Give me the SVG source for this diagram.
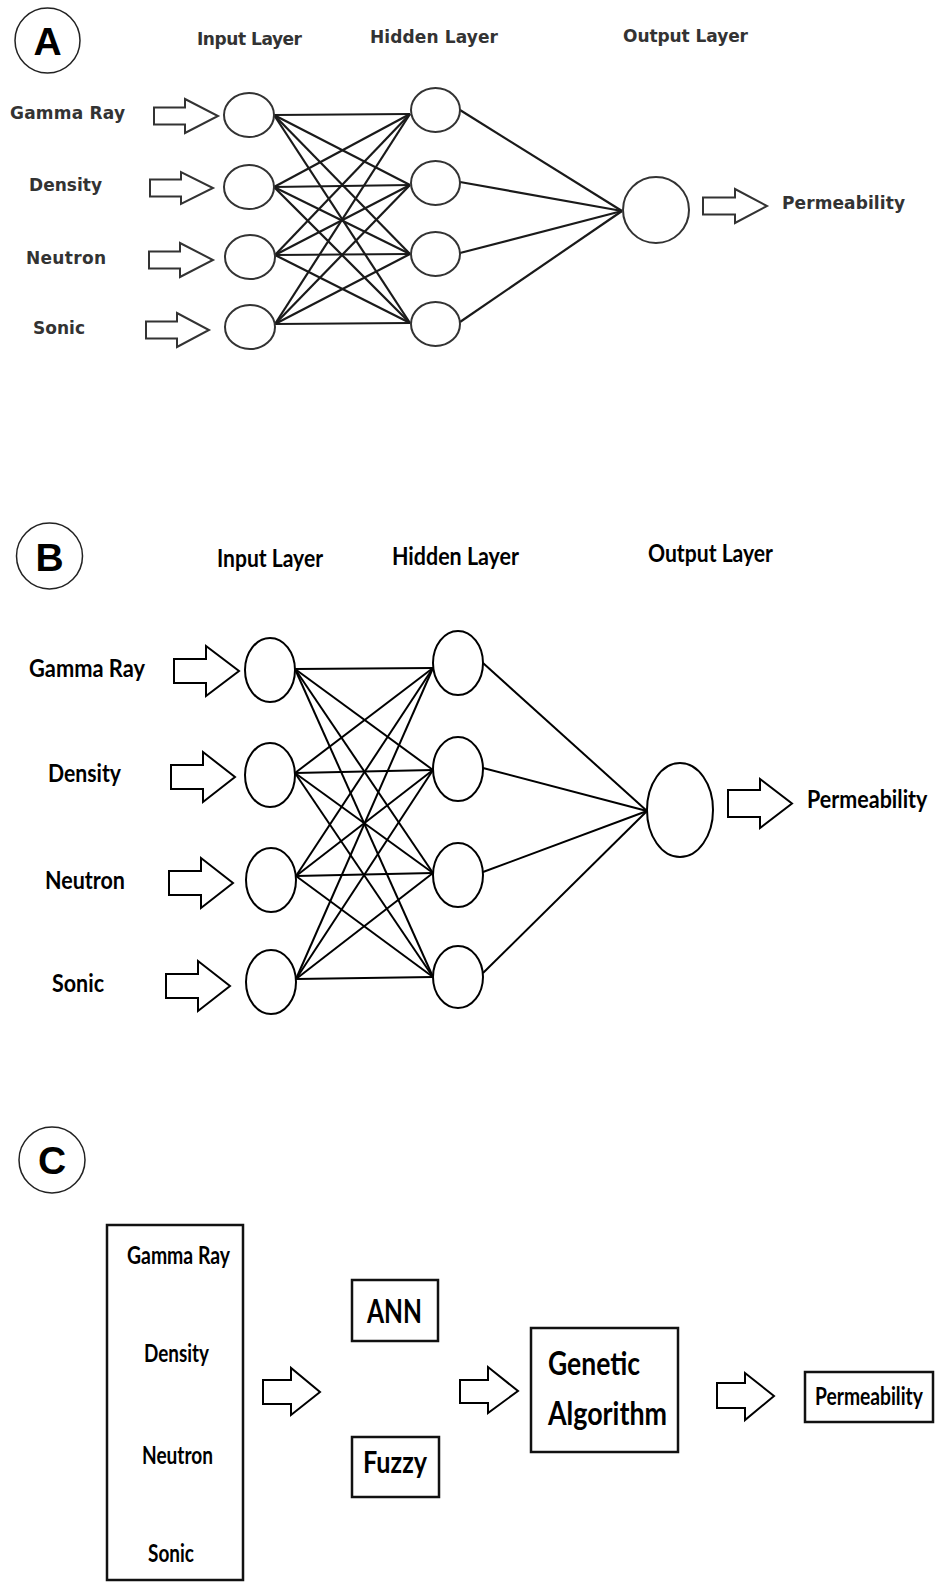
<svg xmlns="http://www.w3.org/2000/svg" width="935" height="1582" viewBox="0 0 935 1582">
<style>
.bg{fill:#fff}
.badge{fill:#fff;stroke:#222;stroke-width:1.5}
.badgeT{font-family:"Liberation Sans",Arial,sans-serif;font-weight:bold;font-size:39px;fill:#000;text-anchor:middle}
.ta{font-family:"DejaVu Sans",Verdana,sans-serif;font-weight:bold;font-size:17px;fill:#333}
.tb{font-family:Lato,"Liberation Sans",sans-serif;font-weight:bold;font-size:25px;fill:#000}
.nodeA{fill:#fff;stroke:#333;stroke-width:2}
.nodeB{fill:#fff;stroke:#000;stroke-width:2}
.arrA{fill:#fff;stroke:#333;stroke-width:2;stroke-linejoin:miter}
.arrB{fill:#fff;stroke:#000;stroke-width:2;stroke-linejoin:miter}
.linkA{stroke:#1a1a1a;stroke-width:2.2;fill:none}
.linkB{stroke:#000;stroke-width:2;fill:none}
.box{fill:#fff;stroke:#111;stroke-width:2.5}
</style>
<rect class="bg" x="0" y="0" width="935" height="1582"/>

<!-- ================= Panel A ================= -->
<g id="badgeA"><circle class="badge" cx="47.5" cy="40.5" r="32.5"/><text class="badgeT" x="47.5" y="55">A</text></g>
<g id="A-titles">
<text class="ta" x="197" y="45" textLength="105">Input Layer</text>
<text class="ta" x="370" y="43" textLength="128">Hidden Layer</text>
<text class="ta" x="623" y="42" textLength="125">Output Layer</text>
</g>
<g id="A-connectors">
<g class="linkA">
<line x1="274" y1="115" x2="410" y2="114"/><line x1="274" y1="115" x2="410" y2="185"/><line x1="274" y1="115" x2="410" y2="254"/><line x1="274" y1="115" x2="410" y2="323"/>
<line x1="274" y1="187" x2="410" y2="114"/><line x1="274" y1="187" x2="410" y2="185"/><line x1="274" y1="187" x2="410" y2="254"/><line x1="274" y1="187" x2="410" y2="323"/>
<line x1="275" y1="255" x2="410" y2="114"/><line x1="275" y1="255" x2="410" y2="185"/><line x1="275" y1="255" x2="410" y2="254"/><line x1="275" y1="255" x2="410" y2="323"/>
<line x1="275" y1="324" x2="410" y2="114"/><line x1="275" y1="324" x2="410" y2="185"/><line x1="275" y1="324" x2="410" y2="254"/><line x1="275" y1="324" x2="410" y2="323"/>
<line x1="460" y1="110" x2="622" y2="211"/><line x1="460" y1="182" x2="622" y2="211"/><line x1="460" y1="253" x2="622" y2="211"/><line x1="460" y1="322" x2="622" y2="211"/>
</g>
<polygon class="arrA" points="154,107.5 185,107.5 185,99 218,116 185,133 185,124.5 154,124.5"/>
<polygon class="arrA" points="150,179.5 181,179.5 181,172 213,188 181,204 181,196.5 150,196.5"/>
<polygon class="arrA" points="149,251.5 180,251.5 180,243 213,260 180,277 180,268.5 149,268.5"/>
<polygon class="arrA" points="146,321.5 177,321.5 177,313 209,330 177,347 177,338.5 146,338.5"/>
<polygon class="arrA" points="703,197.5 735,197.5 735,189 767,206 735,223 735,214.5 703,214.5"/>
</g>
<g id="A-in-gamma"><text class="ta" x="10" y="119" textLength="115">Gamma Ray</text></g>
<g id="A-in-density"><text class="ta" x="29" y="191" textLength="73">Density</text></g>
<g id="A-in-neutron"><text class="ta" x="26" y="264" textLength="80">Neutron</text></g>
<g id="A-in-sonic"><text class="ta" x="33" y="334" textLength="52">Sonic</text></g>
<g id="A-input-nodes">
<ellipse class="nodeA" cx="249" cy="115" rx="25" ry="22"/>
<ellipse class="nodeA" cx="249" cy="187" rx="25" ry="22"/>
<ellipse class="nodeA" cx="250" cy="257" rx="25" ry="22"/>
<ellipse class="nodeA" cx="250" cy="327" rx="25" ry="22"/>
</g>
<g id="A-hidden-nodes">
<ellipse class="nodeA" cx="435.5" cy="110" rx="24.5" ry="22"/>
<ellipse class="nodeA" cx="435.5" cy="183" rx="24.5" ry="22"/>
<ellipse class="nodeA" cx="435.5" cy="254" rx="24.5" ry="22"/>
<ellipse class="nodeA" cx="435.5" cy="324" rx="24.5" ry="22"/>
</g>
<g id="A-output-node"><ellipse class="nodeA" cx="656" cy="210" rx="33" ry="33"/></g>
<g id="A-out-label"><text class="ta" x="782" y="209" textLength="123">Permeability</text></g>

<!-- ================= Panel B ================= -->
<g id="badgeB"><circle class="badge" cx="49.5" cy="556" r="33"/><text class="badgeT" x="49.5" y="571">B</text></g>
<g id="B-titles">
<text class="tb" x="217" y="567" textLength="106" lengthAdjust="spacingAndGlyphs">Input Layer</text>
<text class="tb" x="392" y="565" textLength="127" lengthAdjust="spacingAndGlyphs">Hidden Layer</text>
<text class="tb" x="648" y="562" textLength="125" lengthAdjust="spacingAndGlyphs">Output Layer</text>
</g>
<g id="B-connectors">
<g class="linkB">
<line x1="295" y1="669" x2="433" y2="668"/><line x1="295" y1="669" x2="433" y2="770"/><line x1="295" y1="669" x2="433" y2="873"/><line x1="295" y1="669" x2="433" y2="977"/>
<line x1="295" y1="773" x2="433" y2="668"/><line x1="295" y1="773" x2="433" y2="770"/><line x1="295" y1="773" x2="433" y2="873"/><line x1="295" y1="773" x2="433" y2="977"/>
<line x1="296" y1="876" x2="433" y2="668"/><line x1="296" y1="876" x2="433" y2="770"/><line x1="296" y1="876" x2="433" y2="873"/><line x1="296" y1="876" x2="433" y2="977"/>
<line x1="296" y1="979" x2="433" y2="668"/><line x1="296" y1="979" x2="433" y2="770"/><line x1="296" y1="979" x2="433" y2="873"/><line x1="296" y1="979" x2="433" y2="977"/>
<line x1="483" y1="663" x2="647" y2="811"/><line x1="483" y1="768" x2="647" y2="811"/><line x1="483" y1="872" x2="647" y2="811"/><line x1="483" y1="973" x2="647" y2="811"/>
</g>
<polygon class="arrB" points="174,659 206,659 206,646 239,671 206,696 206,683 174,683"/>
<polygon class="arrB" points="171,765 203,765 203,752 235,777 203,802 203,789 171,789"/>
<polygon class="arrB" points="169,871 201,871 201,858 233,883 201,908 201,895 169,895"/>
<polygon class="arrB" points="166,974 198,974 198,961 230,986 198,1011 198,998 166,998"/>
<polygon class="arrB" points="728,790 760,790 760,779 792,803.5 760,828 760,817 728,817"/>
</g>
<g id="B-in-gamma"><text class="tb" x="29" y="677" textLength="116" lengthAdjust="spacingAndGlyphs">Gamma Ray</text></g>
<g id="B-in-density"><text class="tb" x="48" y="782" textLength="73" lengthAdjust="spacingAndGlyphs">Density</text></g>
<g id="B-in-neutron"><text class="tb" x="45" y="889" textLength="80" lengthAdjust="spacingAndGlyphs">Neutron</text></g>
<g id="B-in-sonic"><text class="tb" x="52" y="992" textLength="52" lengthAdjust="spacingAndGlyphs">Sonic</text></g>
<g id="B-input-nodes">
<ellipse class="nodeB" cx="270" cy="670" rx="25" ry="32"/>
<ellipse class="nodeB" cx="270" cy="775" rx="25" ry="32"/>
<ellipse class="nodeB" cx="271" cy="880" rx="25" ry="32"/>
<ellipse class="nodeB" cx="271" cy="982" rx="25" ry="32"/>
</g>
<g id="B-hidden-nodes">
<ellipse class="nodeB" cx="458" cy="663" rx="25" ry="32"/>
<ellipse class="nodeB" cx="458" cy="769" rx="25" ry="32"/>
<ellipse class="nodeB" cx="458" cy="875" rx="25" ry="32"/>
<ellipse class="nodeB" cx="458" cy="977" rx="25" ry="31"/>
</g>
<g id="B-output-node"><ellipse class="nodeB" cx="680" cy="810" rx="33" ry="47"/></g>
<g id="B-out-label"><text class="tb" transform="translate(807 808) scale(0.86 1)" x="0" y="0">Permeability</text></g>

<!-- ================= Panel C ================= -->
<g id="badgeC"><circle class="badge" cx="52" cy="1160" r="33"/><text class="badgeT" x="52" y="1174">C</text></g>
<g id="C-inputs">
<rect class="box" x="107" y="1225" width="136" height="355"/>
<text class="tb" style="font-size:24px" x="127" y="1264" textLength="103" lengthAdjust="spacingAndGlyphs">Gamma Ray</text>
<text class="tb" style="font-size:24px" x="144" y="1362" textLength="65" lengthAdjust="spacingAndGlyphs">Density</text>
<text class="tb" style="font-size:24px" x="142" y="1464" textLength="71" lengthAdjust="spacingAndGlyphs">Neutron</text>
<text class="tb" style="font-size:24px" x="148" y="1562" textLength="46" lengthAdjust="spacingAndGlyphs">Sonic</text>
</g>
<g id="C-ann">
<rect class="box" x="352" y="1280" width="86" height="61"/>
<text class="tb" style="font-size:32px" x="367" y="1323" textLength="55" lengthAdjust="spacingAndGlyphs">ANN</text>
</g>
<g id="C-fuzzy">
<rect class="box" x="352" y="1437" width="87" height="60"/>
<text class="tb" style="font-size:30px" x="363" y="1473" textLength="64" lengthAdjust="spacingAndGlyphs">Fuzzy</text>
</g>
<g id="C-ga">
<rect class="box" x="531" y="1328" width="147" height="124"/>
<text class="tb" style="font-size:32px" x="548" y="1375" textLength="92" lengthAdjust="spacingAndGlyphs">Genetic</text>
<text class="tb" style="font-size:32px" x="548" y="1425" textLength="119" lengthAdjust="spacingAndGlyphs">Algorithm</text>
</g>
<g id="C-perm">
<rect class="box" x="805" y="1372" width="128" height="50"/>
<text class="tb" transform="translate(815 1405) scale(0.77 1)" x="0" y="0">Permeability</text>
</g>
<g id="C-connectors">
<polygon class="arrB" points="263,1380 291,1380 291,1368 320,1392 291,1415 291,1404 263,1404"/>
<polygon class="arrB" points="460,1380 488,1380 488,1367 518,1391 488,1413 488,1403 460,1403"/>
<polygon class="arrB" points="717,1383 745,1383 745,1373 774,1396 745,1420 745,1408 717,1408"/>
</g>
</svg>
